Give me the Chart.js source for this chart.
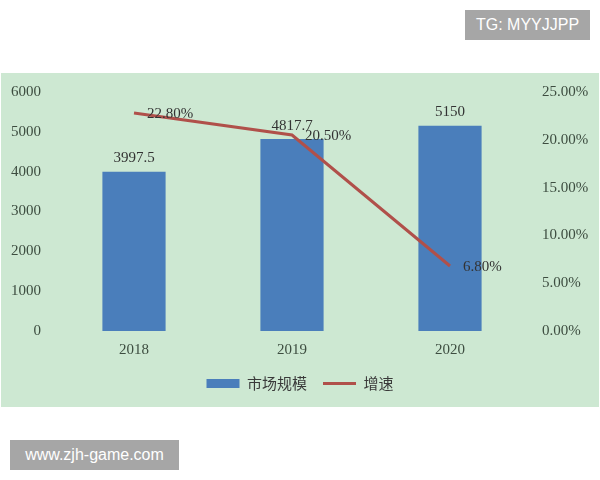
<!DOCTYPE html>
<html>
<head>
<meta charset="utf-8">
<script src="https://cdn.jsdelivr.net/npm/chart.js@4/dist/chart.umd.min.js"></script>
<style>
  body { margin: 0; background: #fff; }
  #wrap { position: relative; width: 600px; height: 480px; }
  .tag { position: absolute; background: #a6a6a6; color: #fff; font-family: "Liberation Sans", Arial, sans-serif; font-size: 16px; line-height: 30px; text-align: center; }
</style>
</head>
<body>
<div id="wrap">
  <canvas id="chart" width="600" height="480"></canvas>
  <div class="tag" style="left:465px;top:10px;width:125px;height:30px;">TG: MYYJJPP</div>
  <div class="tag" style="left:10px;top:440px;width:169px;height:30px;">www.zjh-game.com</div>
</div>
<script>
var years = ["2018", "2019", "2020"];
var marketSize = [3997.5, 4817.7, 5150];
var growth = [22.8, 20.5, 6.8];
var leftTicks = [0, 1000, 2000, 3000, 4000, 5000, 6000];
var rightTicks = [0, 5, 10, 15, 20, 25];

var textColor = "#3d4d40";
var numFont = "'Liberation Serif', 'DejaVu Serif', serif";

// green panel behind the chart
var panel = {
  id: "panel",
  beforeDraw: function(chart) {
    var ctx = chart.ctx;
    ctx.save();
    ctx.fillStyle = "#fff";
    ctx.fillRect(0, 0, chart.width, chart.height);
    ctx.fillStyle = "#cde8d2";
    ctx.fillRect(1, 73, 598, 334);
    ctx.restore();
  }
};

// value labels on the bars and the line
var valueLabels = {
  id: "valueLabels",
  afterDatasetsDraw: function(chart) {
    var ctx = chart.ctx;
    ctx.save();
    ctx.font = "15px " + numFont;
    ctx.fillStyle = "#333";
    var bars = chart.getDatasetMeta(0).data;
    ctx.textAlign = "center";
    ctx.textBaseline = "bottom";
    for (var i = 0; i < bars.length; i++) {
      ctx.fillText(String(marketSize[i]), bars[i].x, bars[i].y - 6);
    }
    var pts = chart.getDatasetMeta(1).data;
    ctx.textAlign = "left";
    ctx.textBaseline = "middle";
    for (var j = 0; j < pts.length; j++) {
      ctx.fillText(growth[j].toFixed(2) + "%", pts[j].x + 13, pts[j].y + 1);
    }
    ctx.restore();
  }
};

new Chart(document.getElementById("chart"), {
  type: "bar",
  data: {
    labels: years,
    datasets: [{
      label: "市场规模",
      data: marketSize,
      backgroundColor: "#4a7ebb",
      categoryPercentage: 1,
      barPercentage: 0.4,
      yAxisID: "y",
      pointStyle: "rect",
      order: 2
    }, {
      type: "line",
      label: "增速",
      data: growth,
      borderColor: "#b0504a",
      backgroundColor: "#b0504a",
      borderWidth: 3,
      pointRadius: 0,
      pointStyle: "line",
      tension: 0,
      yAxisID: "y1",
      order: 1
    }]
  },
  options: {
    responsive: false,
    animation: false,
    layout: { padding: { top: 92, right: 0, bottom: 79, left: 0 } },
    plugins: {
      tooltip: { enabled: false },
      legend: {
        position: "bottom",
        labels: {
          usePointStyle: true,
          pointStyleWidth: 33,
          boxHeight: 9,
          padding: 16,
          color: "#3a3a3a",
          font: { size: 15, family: "'Noto Sans CJK SC', sans-serif" },
          sort: function(a, b) { return a.datasetIndex - b.datasetIndex; }
        }
      }
    },
    scales: {
      x: {
        clip: false,
        grid: { display: false },
        border: { display: false },
        ticks: { color: textColor, padding: 2, font: { size: 15, family: numFont } },
        afterFit: function(s) { s.height = 29; }
      },
      y: {
        position: "left",
        min: 0,
        max: 6000,
        afterBuildTicks: function(s) { s.ticks = leftTicks.map(function(v) { return { value: v }; }); },
        grid: { display: false },
        border: { display: false },
        ticks: {
          color: textColor,
          padding: 6,
          font: { size: 15, family: numFont },
          callback: function(v) { return String(v); }
        },
        afterFit: function(s) { s.width = 55; }
      },
      y1: {
        position: "right",
        min: 0,
        max: 25,
        afterBuildTicks: function(s) { s.ticks = rightTicks.map(function(v) { return { value: v }; }); },
        grid: { display: false },
        border: { display: false },
        ticks: {
          color: textColor,
          padding: 5,
          font: { size: 15, family: numFont },
          callback: function(v) { return v.toFixed(2) + "%"; }
        },
        afterFit: function(s) { s.width = 71; }
      }
    }
  },
  plugins: [panel, valueLabels]
});
</script>
</body>
</html>
